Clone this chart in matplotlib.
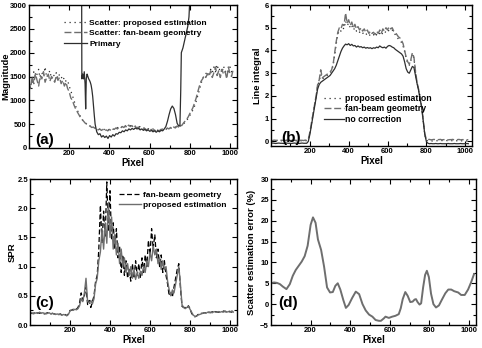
import numpy as np
import matplotlib
matplotlib.use('Agg')
import matplotlib.pyplot as plt
from matplotlib.ticker import FixedLocator

# ---------------- data ----------------
# (a) scatter / primary profiles, pixel step 8
a_x = np.arange(0, 1024, 8)
a_prop = [1450, 1520, 1380, 1600, 1480, 1550, 1650, 1420, 1580, 1500, 1700, 1480, 1560, 1620, 1450, 1540,
          1500, 1580, 1460, 1550, 1500, 1420, 1480, 1400, 1420, 1300, 1200, 1100, 1000, 880, 800, 720,
          660, 600, 560, 530, 500, 480, 460, 440, 430, 420, 400, 410, 390, 400, 380, 390,
          370, 390, 380, 400, 390, 410, 400, 430, 410, 440, 430, 450, 440, 460, 450, 470,
          460, 470, 450, 460, 440, 450, 420, 430, 410, 420, 400, 410, 390, 400, 380, 390,
          370, 390, 380, 400, 390, 410, 400, 420, 410, 430, 420, 440, 430, 450, 460, 480,
          500, 540, 580, 620, 680, 740, 800, 880, 980, 1100, 1220, 1350, 1450, 1520, 1560, 1600,
          1550, 1650, 1580, 1700, 1600, 1750, 1620, 1680, 1580, 1720, 1600, 1650, 1550, 1700, 1600, 1680]
a_fan = [1380, 1250, 1500, 1350, 1560, 1420, 1300, 1520, 1450, 1600, 1380, 1480, 1550, 1400, 1500, 1450,
         1380, 1520, 1420, 1480, 1350, 1420, 1300, 1380, 1250, 1180, 1050, 1000, 900, 820, 760, 700,
         640, 600, 560, 520, 500, 470, 460, 430, 440, 410, 400, 380, 400, 370, 390, 360,
         380, 360, 390, 370, 400, 390, 420, 400, 440, 420, 450, 430, 470, 440, 480, 450,
         470, 430, 460, 420, 440, 410, 420, 390, 410, 380, 400, 370, 390, 360, 380, 350,
         380, 360, 390, 370, 400, 380, 420, 400, 430, 410, 440, 420, 460, 440, 480, 470,
         520, 560, 600, 650, 720, 780, 850, 950, 1050, 1180, 1300, 1400, 1450, 1520, 1480, 1560,
         1500, 1620, 1480, 1580, 1700, 1520, 1620, 1480, 1650, 1550, 1600, 1450, 1700, 1560, 1500, 1650]
a_prim_x = [0, 261, 263, 267, 271, 275, 279, 282, 285, 289,
            293, 297, 301, 305, 309, 313, 317, 321, 325, 329,
            333, 337, 345, 353, 361, 369, 377, 385, 393, 401,
            409, 417, 425, 433, 441, 449, 457, 465, 473, 481,
            489, 497, 505, 513, 521, 529, 537, 545, 553, 561,
            569, 577, 585, 593, 601, 609, 617, 625, 633, 641,
            649, 657, 665, 673, 681, 689, 697, 705, 713, 721,
            729, 737, 745, 751, 755, 758, 766, 774, 782, 790,
            796, 800, 806, 1024]
a_prim = [5000, 5000, 1450, 1550, 1450, 1600, 1350, 820, 1450, 1550,
          1500, 1450, 1420, 1380, 1320, 1220, 1080, 880, 680, 500,
          420, 340, 280, 300, 230, 260, 220, 250, 200, 260,
          230, 280, 250, 300, 290, 330, 320, 360, 340, 380,
          360, 400, 380, 410, 390, 420, 400, 410, 380, 400,
          370, 390, 360, 380, 350, 370, 340, 360, 330, 360,
          340, 370, 360, 400, 450, 560, 700, 820, 880, 830,
          700, 520, 460, 470, 1200, 2000, 2100, 2250, 2400, 2550,
          2750, 3100, 5000, 5000]

# (b) line integrals, pixel step 8
b_x = np.arange(0, 1024, 8)
b_prop = [0.03, 0.02, 0.04, 0.03, 0.03, 0.02, 0.04, 0.03, 0.03, 0.02, 0.04, 0.03, 0.03, 0.02, 0.04, 0.03,
          0.03, 0.02, 0.04, 0.03, 0.03, 0.02, 0.04, 0.03, 0.08, 0.38, 0.78, 1.18, 1.58, 1.98, 2.45, 2.65,
          2.95, 2.75, 2.8, 2.85, 2.9, 2.95, 3.0, 3.1, 3.35, 3.8, 4.3, 4.7, 4.9, 4.85, 5.0, 4.95,
          5.3, 5.1, 5.2, 5.0, 5.1, 4.9, 5.0, 4.85, 4.9, 4.8, 4.85, 4.75, 4.8, 4.7, 4.75, 4.65,
          4.7, 4.65, 4.7, 4.6, 4.7, 4.65, 4.75, 4.65, 4.8, 4.75, 4.85, 4.8, 4.9, 4.85, 4.9, 4.75,
          4.7, 4.6, 4.5, 4.45, 4.35, 4.2, 3.95, 3.65, 3.45, 3.35, 3.55, 3.85, 3.65, 3.05, 2.55, 2.25,
          1.85, 1.45, 0.85, 0.3, 0.05, 0.03, 0.04, 0.03, 0.02, 0.03, 0.04, 0.03, 0.02, 0.03, 0.04, 0.03,
          0.03, 0.04, 0.02, 0.03, 0.03, 0.04, 0.02, 0.03, 0.03, 0.04, 0.02, 0.03, 0.03, 0.04, 0.02, 0.03]
b_fan = [0.05, 0.04, 0.06, 0.05, 0.05, 0.04, 0.06, 0.05, 0.05, 0.04, 0.06, 0.05, 0.05, 0.04, 0.06, 0.05,
         0.05, 0.04, 0.06, 0.05, 0.05, 0.04, 0.06, 0.05, 0.1, 0.4, 0.8, 1.2, 1.6, 2.0, 2.5, 2.7,
         3.15, 2.8, 2.85, 2.9, 2.95, 3.0, 3.05, 3.15, 3.4, 3.9, 4.4, 4.8, 5.0, 4.95, 5.15, 5.1,
         5.65, 5.2, 5.35, 5.1, 5.25, 5.0, 5.15, 4.95, 5.05, 4.9, 5.0, 4.85, 4.95, 4.8, 4.9, 4.75,
         4.85, 4.75, 4.8, 4.7, 4.85, 4.75, 4.9, 4.75, 4.95, 4.85, 5.0, 4.9, 5.05, 4.95, 5.0, 4.85,
         4.8, 4.7, 4.6, 4.55, 4.45, 4.3, 4.0, 3.7, 3.5, 3.4, 3.6, 3.9, 3.7, 3.1, 2.6, 2.3,
         1.9, 1.5, 0.9, 0.35, 0.08, 0.08, 0.09, 0.07, 0.08, 0.09, 0.07, 0.08, 0.08, 0.09, 0.07, 0.08,
         0.08, 0.09, 0.07, 0.08, 0.08, 0.09, 0.07, 0.08, 0.08, 0.09, 0.07, 0.08, 0.08, 0.09, 0.07, 0.08]
b_nc = [-0.08, -0.07, -0.08, -0.09, -0.08, -0.07, -0.08, -0.08, -0.09, -0.08, -0.07, -0.08, -0.08, -0.09, -0.08, -0.07,
        -0.08, -0.08, -0.09, -0.08, -0.07, -0.08, -0.08, -0.08, 0.0, 0.3, 0.7, 1.1, 1.5, 1.9, 2.3, 2.5,
        2.6, 2.65, 2.7, 2.75, 2.8, 2.85, 2.9, 3.0, 3.1, 3.2, 3.35, 3.55, 3.75, 3.95, 4.1, 4.2,
        4.28, 4.25, 4.3, 4.22, 4.27, 4.2, 4.22, 4.15, 4.2, 4.15, 4.17, 4.12, 4.15, 4.1, 4.13, 4.1,
        4.12, 4.08, 4.12, 4.1, 4.15, 4.12, 4.2, 4.15, 4.12, 4.15, 4.1, 4.18, 4.22, 4.2, 4.15, 4.12,
        4.05, 4.0, 3.95, 3.9, 3.85, 3.75, 3.5, 3.2, 3.05, 3.0, 3.15, 3.3, 3.25, 2.9, 2.55, 2.25,
        1.85, 1.5, 0.9, 0.3, 0.0, -0.08, -0.1, -0.09, -0.1, -0.1, -0.09, -0.1, -0.1, -0.09, -0.1, -0.1,
        -0.1, -0.1, -0.09, -0.1, -0.1, -0.1, -0.09, -0.1, -0.1, -0.1, -0.09, -0.1, -0.1, -0.1, -0.09, -0.1]

# (c) scatter-to-primary ratio, pixel step 8
c_x = np.arange(0, 1024, 8)
c_fan = [0.19, 0.2, 0.2, 0.21, 0.19, 0.21, 0.2, 0.21, 0.2, 0.19, 0.2, 0.21, 0.2, 0.19, 0.2, 0.19,
         0.19, 0.18, 0.18, 0.19, 0.17, 0.17, 0.18, 0.16, 0.19, 0.25, 0.25, 0.27, 0.26, 0.27, 0.3, 0.38,
         0.55, 0.42, 0.5, 0.65, 0.35, 0.42, 0.3, 0.4, 0.5, 0.75, 0.85, 1.3, 2.05, 1.4, 1.95, 1.5,
         2.45, 1.6, 2.3, 1.45, 1.75, 1.3, 1.65, 1.15, 1.35, 0.9, 1.2, 0.85, 1.1, 0.8, 0.95, 0.75,
         1.05, 0.8, 1.1, 0.85, 1.05, 0.8, 1.15, 0.9, 1.2, 1.0, 1.45, 1.2, 1.65, 1.3, 1.55, 1.15,
         1.3, 1.0, 1.2, 0.9, 1.1, 0.85, 0.7, 0.5, 0.55, 0.48, 0.65, 0.8, 0.95, 1.05, 0.65, 0.32,
         0.3, 0.3, 0.28, 0.33, 0.28, 0.2, 0.16, 0.14, 0.15, 0.18, 0.19, 0.2, 0.2, 0.21, 0.21, 0.22,
         0.22, 0.21, 0.23, 0.22, 0.23, 0.22, 0.22, 0.23, 0.22, 0.24, 0.23, 0.22, 0.24, 0.23, 0.22, 0.24]
c_prop = [0.2, 0.21, 0.19, 0.2, 0.21, 0.2, 0.22, 0.2, 0.21, 0.2, 0.19, 0.2, 0.21, 0.19, 0.2, 0.19,
          0.18, 0.19, 0.18, 0.18, 0.17, 0.18, 0.17, 0.16, 0.18, 0.24, 0.26, 0.25, 0.27, 0.26, 0.28, 0.33,
          0.45, 0.4, 0.55, 0.8, 0.4, 0.38, 0.42, 0.36, 0.45, 0.7, 0.8, 1.1, 1.25, 1.65, 1.3, 1.75,
          1.4, 2.1, 1.5, 1.85, 1.3, 1.55, 1.2, 1.4, 1.05, 1.3, 1.0, 1.15, 0.9, 1.05, 0.85, 1.0,
          0.8, 0.95, 0.78, 0.9, 0.8, 0.92, 0.85, 1.0, 0.9, 1.1, 1.0, 1.25, 1.1, 1.35, 1.2, 1.3,
          1.05, 1.15, 0.95, 1.1, 0.95, 1.0, 0.75, 0.6, 0.5, 0.6, 0.55, 0.7, 0.85, 1.0, 0.7, 0.35,
          0.3, 0.28, 0.3, 0.32, 0.27, 0.22, 0.17, 0.15, 0.15, 0.17, 0.18, 0.19, 0.2, 0.21, 0.2, 0.22,
          0.21, 0.22, 0.21, 0.23, 0.22, 0.22, 0.23, 0.22, 0.23, 0.22, 0.24, 0.22, 0.23, 0.22, 0.24, 0.22]

# (d) scatter estimation error (%)
d_x = [0, 15, 30, 45, 60, 78, 95, 110, 125, 140,
       155, 170, 185, 200, 212, 225, 237, 253, 268, 283,
       298, 312, 325, 337, 350, 365, 378, 392, 410, 428,
       445, 462, 478, 495, 512, 528, 545, 555, 570, 578,
       595, 612, 628, 645, 655, 665, 678, 690, 703, 715,
       725, 732, 740, 750, 758, 768, 778, 787, 797, 808,
       820, 833, 848, 862, 880, 895, 910, 925, 945, 960,
       978, 995, 1010, 1025]
d_err = [5.0, 5.2, 5.1, 4.8, 4.2, 3.6, 4.8, 6.8, 8.2, 9.2,
         10.2, 11.5, 14.0, 19.0, 20.8, 19.5, 15.5, 13.0, 9.0, 4.0,
         2.8, 2.9, 4.4, 5.0, 3.5, 1.0, -0.9, -0.2, 1.5, 3.0,
         2.4, 0.0, -1.5, -2.5, -3.0, -3.8, -4.0, -4.0, -3.4, -3.0,
         -3.3, -3.0, -2.8, -2.4, -1.0, 1.2, 2.9, 2.0, 0.5, 0.6,
         1.1, 1.2, 0.5, -0.1, 0.2, 4.0, 7.0, 8.0, 6.5, 2.5,
         0.0, -0.8, -0.3, 1.0, 2.6, 3.5, 3.5, 3.1, 2.8, 2.2,
         2.2, 3.5, 5.2, 7.2]

x_ticks = [200, 400, 600, 800, 1000]

# ---------------- styling ----------------
plt.rcParams['font.family'] = ['Liberation Sans', 'DejaVu Sans']
plt.rcParams['font.weight'] = 'bold'
plt.rcParams['axes.labelweight'] = 'bold'
plt.rcParams['axes.linewidth'] = 1.0

GREY = '#6e6e6e'
DARK = '#2e2e2e'

fig = plt.figure(figsize=(4.82, 3.48), dpi=100)


def px_axes(l, t, r, b):
    # axes box given in pixel coords of the 482x348 picture
    return fig.add_axes([l / 482, 1 - b / 348, (r - l) / 482, (b - t) / 348])


def style(ax, yticks, yminor, ylim, ylabel, ylab_x):
    ax.set_xlim(0, 1035)
    ax.set_ylim(*ylim)
    ax.xaxis.set_major_locator(FixedLocator(x_ticks))
    ax.xaxis.set_minor_locator(FixedLocator(np.arange(100, 1035, 100)))
    ax.yaxis.set_major_locator(FixedLocator(yticks))
    ax.yaxis.set_minor_locator(FixedLocator(yminor))
    ax.tick_params(which='both', direction='in', top=True, right=True,
                   labelsize=5.5, pad=1.5, width=0.8)
    ax.tick_params(which='major', length=3.5)
    ax.tick_params(which='minor', length=2)
    ax.set_xlabel('Pixel', fontsize=7, labelpad=1)
    ax.set_ylabel(ylabel, fontsize=6.8)
    ax.yaxis.set_label_coords(ylab_x, 0.5)


axa = px_axes(29, 5, 237, 148)
axb = px_axes(271, 5, 472, 146)
axc = px_axes(30, 179, 237, 325)
axd = px_axes(271, 179, 476, 325)

# (a)
axa.plot(a_x, a_prop, color=DARK, lw=0.9, ls=(0, (1, 3)), label='Scatter: proposed estimation')
axa.plot(a_x, a_fan, color=GREY, lw=1.0, ls=(0, (5, 2)), label='Scatter: fan-beam geometry')
axa.plot(a_prim_x, a_prim, color=DARK, lw=0.9, label='Primary')
style(axa, np.arange(0, 3001, 500), np.arange(250, 3000, 500), (0, 3000), 'Magnitude', -0.091)
axa.legend(loc='upper left', bbox_to_anchor=(0.15, 0.93), frameon=False, fontsize=6,
           handlelength=2.7, handletextpad=0.3, labelspacing=0.3, borderpad=0)
axa.text(0.03, 0.03, '(a)', transform=axa.transAxes, fontsize=11, fontweight='bold')

# (b)
axb.plot(b_x, b_prop, color=DARK, lw=0.9, ls=(0, (1, 3)), label='proposed estimation')
axb.plot(b_x, b_fan, color=GREY, lw=1.0, ls=(0, (5, 2)), label='fan-beam geometry')
axb.plot(b_x, b_nc, color=DARK, lw=0.9, label='no correction')
style(axb, np.arange(0, 7, 1), np.arange(0.5, 6, 1), (-0.2, 6), 'Line integral', -0.045)
axb.legend(loc='upper left', bbox_to_anchor=(0.24, 0.40), frameon=False, fontsize=6.3,
           handlelength=2.3, handletextpad=0.2, labelspacing=0.15, borderpad=0)
axb.text(0.05, 0.03, '(b)', transform=axb.transAxes, fontsize=11, fontweight='bold')

# (c)
axc.plot(c_x, c_fan, color='black', lw=0.9, ls=(0, (4, 2)), label='fan-beam geometry')
axc.plot(c_x, c_prop, color=GREY, lw=1.0, label='proposed estimation')
style(axc, np.arange(0, 2.6, 0.5), np.arange(0.25, 2.5, 0.5), (0, 2.5), 'SPR', -0.063)
axc.legend(loc='upper left', bbox_to_anchor=(0.41, 0.945), frameon=False, fontsize=6.0,
           handlelength=2.6, handletextpad=0.3, labelspacing=0.3, borderpad=0)
axc.text(0.025, 0.12, '(c)', transform=axc.transAxes, fontsize=11, fontweight='bold')

# (d)
axd.plot(d_x, d_err, color=GREY, lw=1.4)
style(axd, np.arange(-5, 31, 5), np.arange(-2.5, 30, 5), (-5, 30),
      'Scatter estimation error (%)', -0.073)
axd.text(0.035, 0.12, '(d)', transform=axd.transAxes, fontsize=11, fontweight='bold')

fig.savefig('out.png', dpi=100)
